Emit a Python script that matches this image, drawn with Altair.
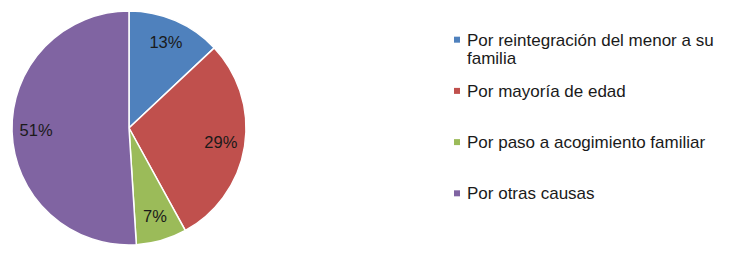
import altair as alt
import pandas as pd

categories = [
    "Por reintegración del menor a su familia",
    "Por mayoría de edad",
    "Por paso a acogimiento familiar",
    "Por otras causas",
]
legend_labels = [
    "Por reintegración del menor a su\nfamilia",
    "Por mayoría de edad",
    "Por paso a acogimiento familiar",
    "Por otras causas",
]
values = [13, 29, 7, 51]
pct_labels = ["13%", "29%", "7%", "51%"]
colors = ["#4F81BD", "#C0504D", "#9BBB59", "#8064A2"]

df = pd.DataFrame({
    "cat": categories,
    "legend": legend_labels,
    "value": values,
    "label": pct_labels,
    "idx": list(range(len(categories))),
})

color = alt.Color("cat:N", scale=alt.Scale(domain=categories, range=colors), legend=None)

base = alt.Chart(df).encode(
    theta=alt.Theta("value:Q", stack=True),
    order=alt.Order("idx:Q"),
)
arcs = base.mark_arc(radius=117, stroke="white", strokeWidth=1.5).encode(color=color)
texts = base.mark_text(radius=93, fontSize=16.5, font="Liberation Sans", color="#1a1a1a").encode(
    text="label:N"
)
pie = (arcs + texts).properties(width=242, height=234)

y = alt.Y("cat:N", sort=categories, axis=None, scale=alt.Scale(type="point", padding=0.56))
leg_base = alt.Chart(df).encode(y=y)
squares = leg_base.mark_square(size=36, opacity=1).encode(x=alt.value(7), color=color)
labels = leg_base.mark_text(
    align="left", baseline="alphabetic", dy=6, fontSize=17, font="Liberation Sans",
    lineBreak="\n", lineHeight=18, color="#1a1a1a",
).encode(x=alt.value(17), text="legend:N")
legend = (squares + labels).properties(width=270, height=211)

chart = alt.hconcat(pie, legend, spacing=200, padding=0, background="white").configure_view(stroke=None)

chart.save("out.html", embed_options={"renderer": "svg", "actions": False})
